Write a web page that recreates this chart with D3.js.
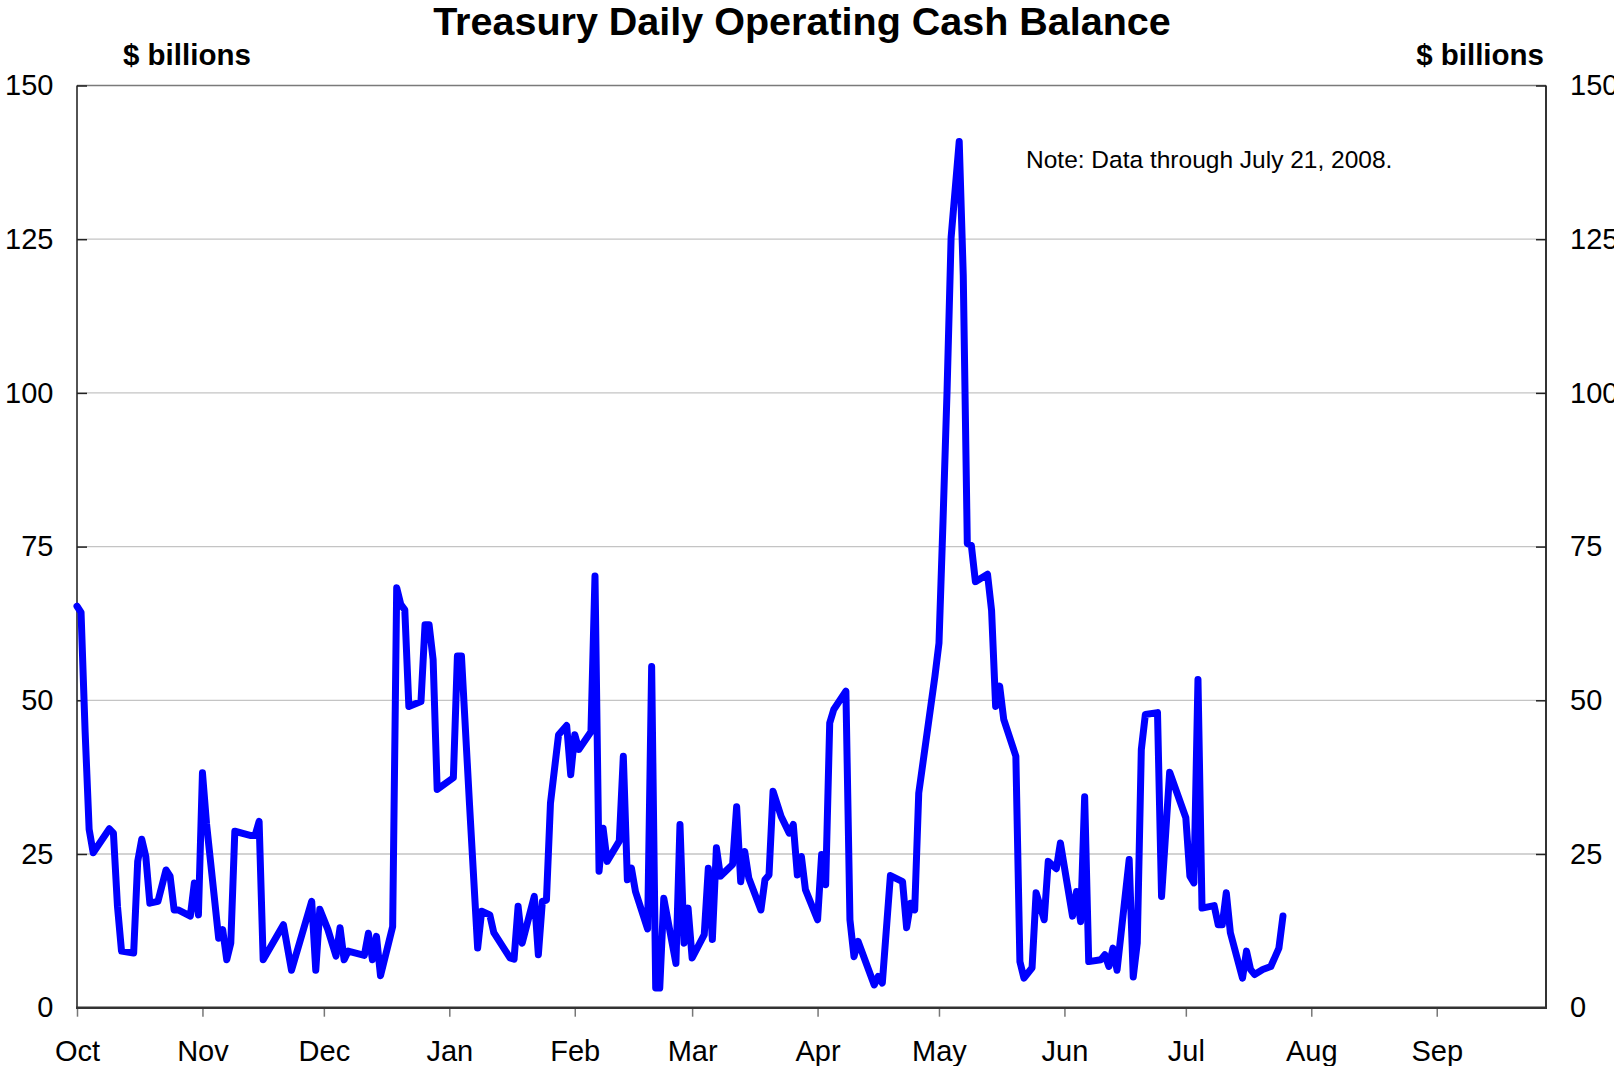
<!DOCTYPE html>
<html>
<head>
<meta charset="utf-8">
<title>Treasury Daily Operating Cash Balance</title>
<script src="https://cdn.jsdelivr.net/npm/d3@7"></script>
<style>
    body { margin: 0; background: #fff; }
    svg text { font-family: "Liberation Sans", Arial, Helvetica, sans-serif; }
</style>
</head>
<body>
<svg id="cash-chart" width="1614" height="1066"></svg>
<script>
// daily operating cash balance ($ billions)
var dates = [
    // Oct 2007
    "2007-10-01", "2007-10-02", "2007-10-03", "2007-10-04", "2007-10-05", "2007-10-09", "2007-10-10",
    "2007-10-11", "2007-10-12", "2007-10-15", "2007-10-16", "2007-10-17", "2007-10-18", "2007-10-19",
    "2007-10-21", "2007-10-23", "2007-10-24", "2007-10-25", "2007-10-26", "2007-10-29", "2007-10-30",
    "2007-10-31",
    // Nov
    "2007-11-01", "2007-11-02", "2007-11-05", "2007-11-06", "2007-11-07", "2007-11-08", "2007-11-09",
    "2007-11-13", "2007-11-14", "2007-11-15", "2007-11-16", "2007-11-21", "2007-11-23", "2007-11-28",
    "2007-11-29", "2007-11-30",
    // Dec
    "2007-12-02", "2007-12-04", "2007-12-05", "2007-12-06", "2007-12-07", "2007-12-11", "2007-12-12",
    "2007-12-13", "2007-12-14", "2007-12-15", "2007-12-18", "2007-12-19", "2007-12-20", "2007-12-21",
    "2007-12-22", "2007-12-25", "2007-12-26", "2007-12-27", "2007-12-28", "2007-12-29",
    // Jan 2008
    "2008-01-02", "2008-01-03", "2008-01-04", "2008-01-06", "2008-01-08", "2008-01-09", "2008-01-11",
    "2008-01-12", "2008-01-16", "2008-01-17", "2008-01-18", "2008-01-19", "2008-01-22", "2008-01-23",
    "2008-01-24", "2008-01-25", "2008-01-26", "2008-01-28", "2008-01-30", "2008-01-31",
    // Feb
    "2008-02-01", "2008-02-02", "2008-02-05", "2008-02-06", "2008-02-07", "2008-02-08", "2008-02-09",
    "2008-02-12", "2008-02-13", "2008-02-14", "2008-02-15", "2008-02-16", "2008-02-19", "2008-02-20",
    "2008-02-21", "2008-02-22", "2008-02-23", "2008-02-26", "2008-02-27", "2008-02-28", "2008-02-29",
    // Mar
    "2008-03-01", "2008-03-04", "2008-03-05", "2008-03-06", "2008-03-07", "2008-03-08", "2008-03-11",
    "2008-03-12", "2008-03-13", "2008-03-14", "2008-03-15", "2008-03-18", "2008-03-19", "2008-03-20",
    "2008-03-21", "2008-03-23", "2008-03-25", "2008-03-26", "2008-03-27", "2008-03-28", "2008-03-29",
    // Apr
    "2008-04-01", "2008-04-02", "2008-04-03", "2008-04-04", "2008-04-05", "2008-04-08", "2008-04-09",
    "2008-04-10", "2008-04-11", "2008-04-15", "2008-04-16", "2008-04-17", "2008-04-19", "2008-04-22",
    "2008-04-23", "2008-04-24", "2008-04-25", "2008-04-26", "2008-04-30",
    // May
    "2008-05-01", "2008-05-02", "2008-05-03", "2008-05-04", "2008-05-06", "2008-05-07", "2008-05-08",
    "2008-05-09", "2008-05-10", "2008-05-13", "2008-05-14", "2008-05-15", "2008-05-16", "2008-05-17",
    "2008-05-20", "2008-05-21", "2008-05-22", "2008-05-24", "2008-05-25", "2008-05-27", "2008-05-28",
    "2008-05-30", "2008-05-31",
    // Jun
    "2008-06-03", "2008-06-04", "2008-06-05", "2008-06-06", "2008-06-07", "2008-06-10", "2008-06-11",
    "2008-06-12", "2008-06-13", "2008-06-14", "2008-06-17", "2008-06-18", "2008-06-19", "2008-06-20",
    "2008-06-21", "2008-06-24", "2008-06-25", "2008-06-27",
    // Jul
    "2008-07-01", "2008-07-02", "2008-07-03", "2008-07-04", "2008-07-05", "2008-07-08", "2008-07-09",
    "2008-07-10", "2008-07-11", "2008-07-12", "2008-07-15", "2008-07-16", "2008-07-17", "2008-07-18",
    "2008-07-20", "2008-07-22", "2008-07-24", "2008-07-25"
];

var balances = [
    // Oct 2007
    65.3, 64.3, 45.0, 29.0, 25.2, 29.1, 28.4,
    16.5, 9.2, 8.9, 23.8, 27.4, 24.6, 17.0,
    17.3, 22.4, 21.4, 15.9, 15.9, 14.9, 20.3,
    15.1,
    // Nov
    38.2, 30.0, 11.3, 12.7, 7.8, 10.5, 28.7,
    28.0, 28.0, 30.3, 7.8, 13.5, 6.1, 17.3,
    6.1, 16.0,
    // Dec
    12.7, 8.4, 13.0, 7.8, 9.2, 8.5, 12.1,
    7.8, 11.6, 5.2, 13.2, 68.3, 65.6, 64.7,
    49.0, 49.8, 62.3, 62.3, 56.6, 35.5,
    // Jan 2008
    37.4, 57.2, 57.2, 33.0, 9.7, 15.7, 15.1,
    12.2, 8.1, 7.9, 16.5, 10.5, 18.1, 8.6,
    17.3, 17.5, 33.3, 44.4, 45.9, 37.9,
    // Feb
    44.4, 42.0, 44.9, 70.2, 22.2, 29.2, 23.8,
    27.1, 40.9, 20.8, 22.7, 18.9, 12.8, 55.5,
    3.2, 3.2, 17.8, 7.2, 29.8, 10.5, 16.2,
    // Mar
    8.1, 11.9, 22.7, 11.1, 26.0, 21.4, 23.3,
    32.7, 20.5, 25.4, 21.1, 15.9, 20.8, 21.6,
    35.2, 31.1, 28.4, 29.8, 21.6, 24.6, 19.2,
    // Apr
    14.3, 24.9, 20.0, 46.3, 48.5, 51.5, 14.3,
    8.3, 10.8, 3.7, 5.1, 4.0, 21.5, 20.5,
    13.0, 17.0, 15.9, 34.9, 53.9,
    // May
    59.3, 79.2, 100.4, 125.3, 140.9, 119.1, 75.5,
    75.2, 69.3, 70.5, 64.6, 49.0, 52.3, 46.9,
    40.9, 7.5, 4.8, 6.5, 18.7, 14.3, 23.8,
    22.6, 26.8,
    // Jun
    14.9, 18.9, 14.0, 34.3, 7.5, 7.8, 8.6,
    6.7, 9.7, 6.1, 24.1, 5.0, 10.5, 42.0,
    47.7, 48.0, 18.1, 38.3,
    // Jul
    30.9, 21.4, 20.3, 53.4, 16.2, 16.6, 13.5,
    13.5, 18.7, 12.2, 4.8, 9.2, 6.2, 5.4,
    6.2, 6.7, 9.7, 14.9
];

// axis settings
var axisStart = "2007-10-01", axisEnd = "2008-09-28";
var monthLabels = ["Oct", "Nov", "Dec", "Jan", "Feb", "Mar", "Apr", "May", "Jun", "Jul", "Aug", "Sep"];
var yTicks = [0, 25, 50, 75, 100, 125, 150];

// texts
var titleText = "Treasury Daily Operating Cash Balance";
var unitText = "$ billions";
var noteText = "Note: Data through July 21, 2008.";

var parseDate = d3.timeParse("%Y-%m-%d");

// pair dates with balances
var series = dates.map(function (s, i) {
    return { date: parseDate(s), value: balances[i] };
});

var svg = d3.select("#cash-chart");

// plot area edges
var plotLeft = 77, plotRight = 1546, plotTop = 85.5, plotBottom = 1007.7;

var x = d3.scaleTime()
    .domain([parseDate(axisStart), parseDate(axisEnd)])
    .range([plotLeft, plotRight]);

var y = d3.scaleLinear()
    .domain([0, 150])
    .range([plotBottom, plotTop]);

// horizontal gridlines
svg.append("g")
    .attr("class", "grid")
    .selectAll("line")
    .data(yTicks.filter(function (v) { return v > 0 && v < 150; }))
    .enter().append("line")
    .attr("x1", plotLeft)
    .attr("x2", plotRight)
    .attr("y1", function (d) { return y(d); })
    .attr("y2", function (d) { return y(d); })
    .attr("stroke", "#c4c4c4")
    .attr("stroke-width", 1.3);

// frame: top border, left/right axes
svg.append("line")
    .attr("x1", plotLeft).attr("x2", plotRight)
    .attr("y1", y(150)).attr("y2", y(150))
    .attr("stroke", "#7a7a7a")
    .attr("stroke-width", 1.5);

svg.append("line")
    .attr("x1", plotLeft).attr("x2", plotLeft)
    .attr("y1", y(150)).attr("y2", y(0))
    .attr("stroke", "#1a1a1a")
    .attr("stroke-width", 1.5);

svg.append("line")
    .attr("x1", plotRight).attr("x2", plotRight)
    .attr("y1", y(150)).attr("y2", y(0))
    .attr("stroke", "#333")
    .attr("stroke-width", 2);

// left axis labels, ticks point into the plot
svg.append("g")
    .attr("transform", "translate(" + plotLeft + ",0)")
    .call(d3.axisLeft(y)
        .tickValues(yTicks)
        .tickSize(-10)
        .tickPadding(23.5))
    .call(function (g) { g.select(".domain").remove(); })
    .attr("font-size", 29)
    .attr("font-family", null)
    .call(function (g) {
        g.selectAll(".tick line").attr("stroke", "#222").attr("stroke-width", 1.5);
    });

// right axis labels (cut by the page edge, as in the original)
svg.append("g")
    .attr("transform", "translate(" + plotRight + ",0)")
    .call(d3.axisRight(y)
        .tickValues(yTicks)
        .tickSize(-10)
        .tickPadding(24))
    .call(function (g) { g.select(".domain").remove(); })
    .attr("font-size", 29)
    .attr("font-family", null)
    .call(function (g) {
        g.selectAll(".tick line").attr("stroke", "#222").attr("stroke-width", 1.5);
    });

// month axis
var months = d3.timeMonth.range(x.domain()[0], x.domain()[1]);

svg.append("g")
    .attr("transform", "translate(0," + plotBottom + ")")
    .call(d3.axisBottom(x)
        .tickValues(months)
        .tickSize(9)
        .tickPadding(24)
        .tickFormat(function (d, i) { return monthLabels[i]; }))
    .call(function (g) { g.select(".domain").remove(); })
    .attr("font-size", 29)
    .attr("font-family", null)
    .call(function (g) {
        g.selectAll(".tick line").attr("stroke", "#777").attr("stroke-width", 1.5);
    });

// cash balance line
var line = d3.line()
    .x(function (d) { return x(d.date); })
    .y(function (d) { return y(d.value); });

svg.append("path")
    .datum(series)
    .attr("fill", "none")
    .attr("stroke", "#0000ff")
    .attr("stroke-width", 7)
    .attr("stroke-linejoin", "round")
    .attr("stroke-linecap", "round")
    .attr("d", line);

// bottom axis line on top
svg.append("line")
    .attr("x1", plotLeft - 1).attr("x2", plotRight + 1)
    .attr("y1", plotBottom).attr("y2", plotBottom)
    .attr("stroke", "#333")
    .attr("stroke-width", 2.5);

// title
svg.append("text")
    .attr("x", 802)
    .attr("y", 35)
    .attr("text-anchor", "middle")
    .attr("font-size", 39.5)
    .attr("font-weight", "bold")
    .attr("fill", "#000")
    .text(titleText);

// unit labels
svg.append("text")
    .attr("x", 123)
    .attr("y", 65)
    .attr("text-anchor", "start")
    .attr("font-size", 29.5)
    .attr("font-weight", "bold")
    .text(unitText);

svg.append("text")
    .attr("x", 1544)
    .attr("y", 65)
    .attr("text-anchor", "end")
    .attr("font-size", 29.5)
    .attr("font-weight", "bold")
    .text(unitText);

// note
svg.append("text")
    .attr("x", 1026)
    .attr("y", 168)
    .attr("font-size", 24.5)
    .attr("fill", "#000")
    .text(noteText);
</script>
</body>
</html>
